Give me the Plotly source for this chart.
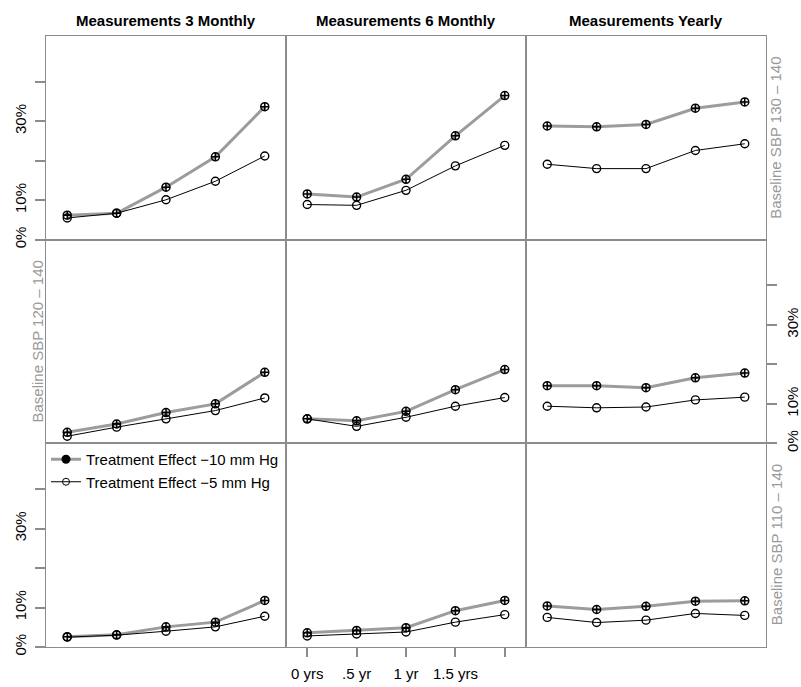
import plotly.graph_objects as go
from plotly.subplots import make_subplots

# ---------------- data ----------------
times = [0, 1, 2, 3, 4]
time_labels = ["0 yrs", ".5 yr", "1 yr", "1.5 yrs", ""]
column_titles = ["Measurements 3 Monthly", "Measurements 6 Monthly", "Measurements Yearly"]
row_labels = ["Baseline SBP 130 – 140", "Baseline SBP 120 – 140", "Baseline SBP 110 – 140"]
series_names = ["Treatment Effect −10 mm Hg", "Treatment Effect −5 mm Hg"]
y_tick_vals = [0, 10, 20, 30, 40]
y_tick_text = ["0%", "10%", "", "30%", ""]

# Treatment effect -10 mm Hg (percent), rows = baseline groups, cols = measurement schedule
eff10_sbp130 = [[6.2, 6.7, 13.3, 21.0, 33.7],
                [11.6, 10.8, 15.3, 26.3, 36.5],
                [28.8, 28.6, 29.2, 33.3, 34.9]]
eff10_sbp120 = [[2.8, 4.9, 7.8, 10.0, 18.0],
                [6.2, 5.7, 8.1, 13.6, 18.7],
                [14.6, 14.6, 14.1, 16.6, 17.8]]
eff10_sbp110 = [[2.6, 3.1, 5.1, 6.3, 11.8],
                [3.6, 4.2, 4.9, 9.2, 11.8],
                [10.4, 9.5, 10.3, 11.6, 11.7]]

# Treatment effect -5 mm Hg (percent)
eff5_sbp130 = [[5.5, 6.7, 10.1, 14.8, 21.2],
               [8.9, 8.7, 12.5, 18.7, 23.9],
               [19.1, 18.0, 18.0, 22.6, 24.3]]
eff5_sbp120 = [[1.8, 4.1, 6.2, 8.3, 11.5],
               [6.2, 4.3, 6.6, 9.4, 11.6],
               [9.4, 9.0, 9.2, 11.0, 11.7]]
eff5_sbp110 = [[2.5, 3.0, 4.0, 5.1, 7.8],
               [2.8, 3.3, 3.8, 6.3, 8.2],
               [7.5, 6.2, 6.8, 8.5, 8.0]]

eff10 = [eff10_sbp130, eff10_sbp120, eff10_sbp110]
eff5 = [eff5_sbp130, eff5_sbp120, eff5_sbp110]

# ---------------- style ----------------
W, H = 801, 687
FONT = "Liberation Sans, Arial, Helvetica, sans-serif"
FRAME = "#8c8c8c"
HEAVY = "#9c9c9c"
L, R, T, B = 46, 35, 36, 40
PW, PH = W - L - R, H - T - B


def px2x(px):
    return (px - L) / PW


def px2y(py):
    return 1 - (py - T) / PH


fig = make_subplots(rows=3, cols=3, horizontal_spacing=0, vertical_spacing=0)

for r in range(3):
    for c in range(3):
        fig.add_trace(go.Scatter(
            x=times, y=eff10[r][c], mode="lines+markers", showlegend=False,
            line=dict(color=HEAVY, width=3),
            marker=dict(symbol="circle-cross-open", size=8, color="black",
                        line=dict(width=1.5, color="black")),
            hoverinfo="skip"), row=r + 1, col=c + 1)
        fig.add_trace(go.Scatter(
            x=times, y=eff5[r][c], mode="lines+markers", showlegend=False,
            line=dict(color="black", width=1),
            marker=dict(symbol="circle-open", size=8, color="black",
                        line=dict(width=1.4, color="black")),
            hoverinfo="skip"), row=r + 1, col=c + 1)

# legend-only traces
fig.add_trace(go.Scatter(x=[None], y=[None], mode="lines+markers", name=series_names[0],
                         line=dict(color=HEAVY, width=3),
                         marker=dict(symbol="circle", size=9, color="black")),
              row=3, col=1)
fig.add_trace(go.Scatter(x=[None], y=[None], mode="lines+markers", name=series_names[1],
                         line=dict(color="black", width=1),
                         marker=dict(symbol="circle-open", size=7, color="black",
                                     line=dict(width=1))),
              row=3, col=1)

for r in range(3):
    for c in range(3):
        xa = dict(range=[-0.43, 4.43], showline=True, mirror=True, linecolor=FRAME,
                  linewidth=1.3, showgrid=False, zeroline=False, automargin=False,
                  tickvals=times, ticktext=time_labels)
        if r == 2 and c == 1:
            xa.update(ticks="outside", ticklen=9, tickwidth=1.5, tickcolor=FRAME,
                      showticklabels=True, ticklabelstandoff=4,
                      tickfont=dict(size=15, color="black", family=FONT))
        else:
            xa.update(ticks="", showticklabels=False)
        fig.update_xaxes(row=r + 1, col=c + 1, **xa)

        ya = dict(range=[0, 51.6], showline=True, mirror=True, linecolor=FRAME,
                  linewidth=1.3, showgrid=False, zeroline=False, automargin=False,
                  tickvals=y_tick_vals, ticktext=y_tick_text)
        if (r in (0, 2) and c == 0) or (r == 1 and c == 2):
            ya.update(ticks="outside", ticklen=10, tickwidth=1.5, tickcolor=FRAME,
                      showticklabels=True, tickangle=-90, ticklabelstandoff=3,
                      tickfont=dict(size=15, color="black", family=FONT),
                      side="right" if r == 1 else "left")
        else:
            ya.update(ticks="", showticklabels=False)
        fig.update_yaxes(row=r + 1, col=c + 1, **ya)

pw = PW / 3
ph = PH / 3
annotations = []
for c, title in enumerate(column_titles):
    annotations.append(dict(text="<b>%s</b>" % title, xref="paper", yref="paper",
                            x=px2x(L + pw * (c + 0.5)), y=px2y(20.5),
                            xanchor="center", yanchor="middle", showarrow=False,
                            font=dict(size=15, color="black", family=FONT)))
for r, lab in enumerate(row_labels):
    yc = px2y(T + ph * (r + 0.5))
    xc = px2x(37) if r == 1 else px2x(776)
    annotations.append(dict(text=lab, xref="paper", yref="paper", x=xc, y=yc,
                            xanchor="center", yanchor="middle", textangle=-90,
                            showarrow=False,
                            font=dict(size=15, color="#999999", family=FONT)))

fig.update_layout(
    width=W, height=H,
    margin=dict(l=L, r=R, t=T, b=B, autoexpand=False),
    paper_bgcolor="white", plot_bgcolor="white",
    font=dict(family=FONT, size=15, color="black"),
    annotations=annotations,
    showlegend=True,
    legend=dict(x=px2x(46), y=px2y(443), xanchor="left", yanchor="top",
                bgcolor="rgba(0,0,0,0)", font=dict(size=15, family=FONT, color="black"),
                itemsizing="trace", tracegroupgap=0),
)

fig.write_html("out.html")
